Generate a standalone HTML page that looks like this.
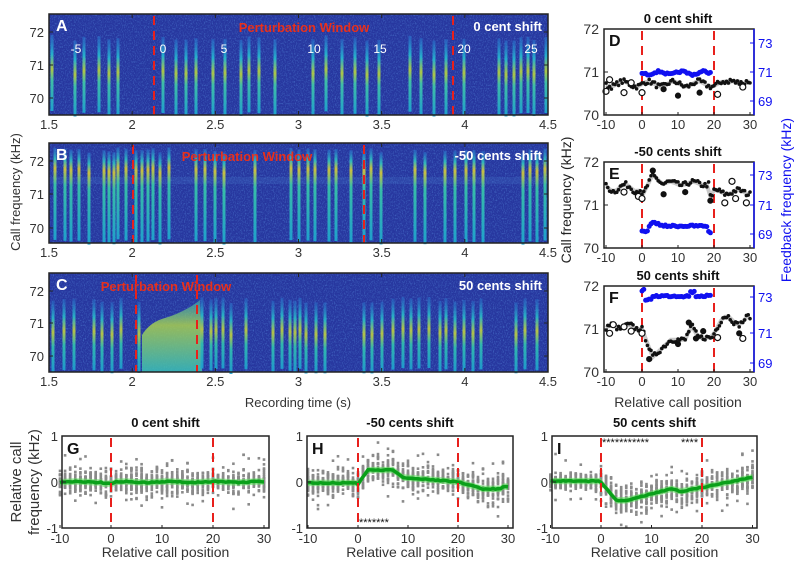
<!DOCTYPE html>
<html><head><meta charset="utf-8">
<style>
html,body{margin:0;padding:0;background:#fff;}
svg{display:block;font-family:"Liberation Sans",Arial,sans-serif;}
</style></head>
<body>
<svg id="s" width="803" height="578" viewBox="0 0 803 578" xmlns="http://www.w3.org/2000/svg">
<defs>
<filter id="nz" x="0" y="0" width="100%" height="100%">
<feTurbulence type="fractalNoise" baseFrequency="0.9 0.6" numOctaves="2" seed="3"/>
<feColorMatrix type="matrix" values="0 0 0 0 0.15  0 0 0 0 0.45  0 0 0 0 0.95  0 0 0 1.6 -0.75"/>
</filter>
<linearGradient id="gA" x1="0" y1="0" x2="0" y2="1">
<stop offset="0" stop-color="#2a7fd8" stop-opacity="0.5"/>
<stop offset="0.25" stop-color="#25b9d0"/>
<stop offset="0.45" stop-color="#b8d040"/>
<stop offset="0.6" stop-color="#40c8a8"/>
<stop offset="1" stop-color="#1fa8d0"/>
</linearGradient>
<linearGradient id="gB" x1="0" y1="0" x2="0" y2="1">
<stop offset="0" stop-color="#2a7fd8" stop-opacity="0.5"/>
<stop offset="0.12" stop-color="#30c0c0"/>
<stop offset="0.22" stop-color="#d8c838"/>
<stop offset="0.4" stop-color="#38c8a8"/>
<stop offset="1" stop-color="#1fa8d0"/>
</linearGradient>
<linearGradient id="gC" x1="0" y1="0" x2="0" y2="1">
<stop offset="0" stop-color="#2a7fd8" stop-opacity="0.4"/>
<stop offset="0.25" stop-color="#28b8c8"/>
<stop offset="0.45" stop-color="#c0cc40"/>
<stop offset="0.65" stop-color="#30c0b0"/>
<stop offset="1" stop-color="#1fa0d0"/>
</linearGradient>
<linearGradient id="blob" x1="0" y1="0" x2="0" y2="1">
<stop offset="0" stop-color="#40b8b0" stop-opacity="0.6"/>
<stop offset="0.35" stop-color="#a8d050" stop-opacity="0.85"/>
<stop offset="1" stop-color="#38c0b8" stop-opacity="0.85"/>
</linearGradient>
</defs>
<g id="root"></g>
</svg>
<script>
(function(){
var NS="http://www.w3.org/2000/svg",root=document.getElementById('root');
function el(t,a,txt,p){var e=document.createElementNS(NS,t);for(var k in a)e.setAttribute(k,a[k]);if(txt!=null)e.textContent=txt;(p||root).appendChild(e);return e;}
var seed=7;function rnd(){seed=(seed*16807)%2147483647;return (seed-1)/2147483646;}
function gauss(){return (rnd()+rnd()+rnd()-1.5)/0.5*0.6;}
function text(x,y,s,o){o=o||{};var a={x:x,y:y,'font-size':o.fs||13,fill:o.fill||'#333','text-anchor':o.anchor||'middle'};if(o.bold)a['font-weight']='bold';if(o.rot)a.transform='rotate(-90 '+x+' '+y+')';return el('text',a,s);}
function dash(x,y0,y1){el('line',{x1:x,y1:y0,x2:x,y2:y1,stroke:'#e8201c','stroke-width':2,'stroke-dasharray':'9,6'});}

function tx(t){return 49+(t-1.5)/3*499;}
function spec(top,bot,y72,y71,y70,bars,grad,barTop,dl,label,title,pwx,extra){
 el('rect',{x:49,y:top,width:499,height:bot-top,fill:'#27379f'});
 el('rect',{x:49,y:top,width:499,height:bot-top,filter:'url(#nz)',opacity:0.6});
 if(extra)extra();
 bars.forEach(function(b){el('rect',{x:b-1.5,y:barTop+(rnd()*6-3),width:3,height:bot-barTop-1,fill:'url(#'+grad+')',opacity:0.92});});
 dash(dl[0],top+2,bot);dash(dl[1],top+2,bot);
 el('rect',{x:49,y:top,width:499,height:bot-top,fill:'none',stroke:'#222','stroke-width':1.5});
 [[72,y72],[71,y71],[70,y70]].forEach(function(v){el('line',{x1:49,y1:v[1],x2:53,y2:v[1],stroke:'#222'});el('line',{x1:544,y1:v[1],x2:548,y2:v[1],stroke:'#222'});text(44,v[1]+5,''+v[0],{anchor:'end',fs:13});});
 [1.5,2,2.5,3,3.5,4,4.5].forEach(function(t){var x=tx(t);el('line',{x1:x,y1:top,x2:x,y2:top+4,stroke:'#222'});el('line',{x1:x,y1:bot,x2:x,y2:bot-4,stroke:'#222'});text(x,bot+14,''+t,{fs:13});});
 text(56,top+17,label,{fill:'#fff',bold:1,fs:16,anchor:'start'});
 text(542,top+17,title,{fill:'#fff',bold:1,fs:13,anchor:'end'});
 text(pwx,top+18,'Perturbation Window',{fill:'#e8301c',bold:1,fs:13});
}
spec(14,115,32,65,98,[52,75,84,99,109,118,163,176,186,196,213,225,241,249,259,275,313,326,342,355,367,379,410,421,434,446,464,499,506,514,521,528,534,546],'gA',38,[154,453],'A','0 cent shift',304);
[['-5',76],['0',163],['5',224],['10',314],['15',380],['20',464],['25',531]].forEach(function(v){text(v[1],53,v[0],{fill:'#fff',fs:12});});
spec(143,243,161,194,228,[55,65,71,79,89,104,109,114,118,126,136,142,148,153,160,169,196,205,215,224,255,291,299,308,315,329,336,351,364,371,381,415,425,445,455,466,474,483,523,530,537,545],'gB',150,[133,364],'B','-50 cents shift',247,function(){el('rect',{x:49,y:177,width:499,height:7,fill:'#4a80d0',opacity:0.2});});
spec(273,372,291,323,356,[53,64,74,94,102,112,121,139,202,211,216,223,231,246,273,282,290,295,300,306,316,325,364,372,382,393,403,411,419,429,440,446,455,464,473,481,516,525,537],'gC',300,[136,197],'C','50 cents shift',166,function(){el('path',{d:'M142 372 L142 335 Q150 322 165 318 Q185 312 200 300 L202 372 Z',fill:'url(#blob)'});});
text(20,192,'Call frequency (kHz)',{rot:1,fs:13});
text(298,407,'Recording time (s)',{fs:13});

function rx(v){return 642+v*3.6;}
function rpanel(top,title,lbl,blueLabelsY,blackF,blueF,circles){
 var bot=top+86;function ry(v){return top+(72-v)*43;}
 text(678,top-6,title,{bold:1,fs:13,fill:'#111'});
 dash(rx(0),top+2,bot);dash(rx(20),top+2,bot);
 var pts=[];for(var i=-10;i<=30;i++)pts.push(rx(i)+','+ry(blackF(i)));
 el('polyline',{points:pts.join(' '),fill:'none',stroke:'#c8c8c8','stroke-width':4});
 for(var i=-10;i<=30;i+=0.5){var v=blackF(i)+(rnd()-0.5)*0.12;
  el('circle',{cx:rx(i),cy:ry(v),r:1.8,fill:'#111'});}
 circles.forEach(function(c){el('circle',{cx:rx(c[0]),cy:ry(c[1]),r:c[2]?2.5:3,fill:c[2]?'#111':'#fff',stroke:'#111','stroke-width':1.2});});
 for(var i=0;i<=19;i+=0.5){el('circle',{cx:rx(i),cy:blueF(i)+(rnd()-0.5)*2,r:2.5,fill:'#1010f0'});}
 el('rect',{x:604,y:top,width:150,height:86,fill:'none',stroke:'#222','stroke-width':1.5});
 el('line',{x1:754,y1:top,x2:754,y2:bot,stroke:'#1010f0','stroke-width':1.5});
 [72,71,70].forEach(function(v){el('line',{x1:604,y1:ry(v),x2:608,y2:ry(v),stroke:'#222'});text(599,ry(v)+5,''+v,{anchor:'end',fs:14});});
 blueLabelsY.forEach(function(v){el('line',{x1:750,y1:v[1],x2:754,y2:v[1],stroke:'#1010f0'});text(758,v[1]+5,v[0],{anchor:'start',fs:13,fill:'#1010f0'});});
 [-10,0,10,20,30].forEach(function(v){el('line',{x1:rx(v),y1:bot,x2:rx(v),y2:bot-3,stroke:'#222'});text(rx(v),bot+14,''+v,{fs:13});});
 text(609,top+17,lbl,{bold:1,fs:16,anchor:'start',fill:'#111'});
}
rpanel(29,'0 cent shift','D',[['73',43],['71',72],['69',101]],function(i){return 70.72+0.06*Math.sin(i*0.9)+(i>24&&i<28?0.1:0);},function(i){return 73+Math.sin(i)*1.5;},
 [[-10,70.55],[-9,70.82],[-5,70.52],[0,70.52],[6,70.6,1],[10,70.45,1],[16,70.52,1],[21,70.48],[28,70.65],[-3,70.75]]);
rpanel(162,'-50 cents shift','E',[['73',175],['71',205],['69',234]],function(i){if(i<0)return 71.4+0.08*Math.sin(i);if(i<=3)return 71.2+i*0.17;if(i<6)return 71.7-(i-3)*0.08;if(i<19)return 71.5+0.04*Math.sin(i);if(i<20)return 71.2;return 71.3+0.05*Math.sin(i);},function(i){return (i<2||i>18?232:226)+(i>2&&i<5?-3:0);},
 [[-5,71.3],[-1,71.2],[0,71.15],[3,71.8,1],[6,71.25,1],[12,71.3,1],[19,71.1,1],[23,71.05],[25,71.55],[26,71.15],[29,71.05]]);
rpanel(286,'50 cents shift','F',[['73',297],['71',333],['69',363]],function(i){if(i<0)return 71.05+0.05*Math.sin(i*1.3);if(i<3)return 71.0-i*0.22;if(i<8)return 70.35+(i-3)*0.08;if(i<12)return 70.75;if(i<14)return 70.75+(i-12)*0.2;if(i<16)return 71.05-(i-14)*0.15;if(i<20)return 70.8;if(i<23)return 70.9+(i-20)*0.15;return 71.2-0.1*Math.sin(i);},function(i){return i<1?290:(i<3?300:296-(i>13&&i<15?4:0));},
 [[-9,70.9],[-8,71.1],[-5,71.05],[-3,70.95],[0,70.9],[2,70.3,1],[10,70.65,1],[13,71.15,1],[15,70.78,1],[17,70.95,1],[21,70.8],[28,70.78],[27,70.9,1]]);
text(571,200,'Call frequency (kHz)',{rot:1,fs:14,fill:'#222'});
text(791,200,'Feedback frequency (kHz)',{rot:1,fs:14,fill:'#1010f0'});
text(678,407,'Relative call position',{fs:14});

function bpanel(L,R,x0,x20,title,lbl,meanF,spreadF,stars){
 var top=436,bot=528;function by(v){return 482-v*46;}function bx(i){return x0+i*(x20-x0)/20;}
 text((L+R)/2,427,title,{bold:1,fs:13,fill:'#111'});
 for(var i=-10;i<=30;i++){var m=meanF(i),s=spreadF(i);
  for(var k=0;k<24;k++){var v=m+gauss()*s;if(rnd()<0.06)v=m+(rnd()-0.5)*1.2;if(v>0.95||v<-0.98)continue;el('rect',{x:bx(i)-1.3,y:by(v)-1.3,width:2.6,height:2.6,fill:'#8a8a8a'});}
 }
 var up=[],dn=[],ln=[];for(var i=-10;i<=30;i+=0.5){var m=meanF(i);up.push(bx(i)+','+by(m+0.07));dn.unshift(bx(i)+','+by(m-0.07));ln.push(bx(i)+','+by(m+(rnd()-0.5)*0.02));}
 el('polygon',{points:up.concat(dn).join(' '),fill:'#5ee05e',opacity:0.6});
 el('polyline',{points:ln.join(' '),fill:'none',stroke:'#0aa01a','stroke-width':3.5});
 dash(x0,top+2,bot);dash(x20,top+2,bot);
 el('rect',{x:L,y:top,width:R-L,height:bot-top,fill:'none',stroke:'#222','stroke-width':1.5});
 [[1,'1'],[0,'0'],[-1,'-1']].forEach(function(v){el('line',{x1:L,y1:by(v[0]),x2:L+4,y2:by(v[0]),stroke:'#222'});text(L-4,by(v[0])+5,v[1],{anchor:'end',fs:13});});
 [-10,0,10,20,30].forEach(function(v){el('line',{x1:bx(v),y1:bot,x2:bx(v),y2:bot-3,stroke:'#222'});text(bx(v),bot+15,''+v,{fs:13});});
 text(L+5,top+18,lbl,{bold:1,fs:16,anchor:'start',fill:'#111'});
 text((L+R)/2,557,'Relative call position',{fs:14});
 (stars||[]).forEach(function(s){text(s[0],s[1],s[2],{anchor:'start',fs:11,fill:'#111'});});
}
bpanel(62,269,111,213,'0 cent shift','G',function(i){return 0.01*Math.sin(i*0.7)-(i>-2&&i<1?0.03:0);},function(i){return 0.2+(i>2&&i<14?0.08:0);});
bpanel(307,513,358,458,'-50 cents shift','H',function(i){if(i<0)return -0.02;if(i<2)return -0.05+i*0.16;if(i<7)return 0.26;if(i<9)return 0.26-(i-7)*0.08;if(i<20)return 0.1-(i-9)*0.009;if(i<25)return -(i-20)*0.03;if(i<29)return -0.15;return -0.1;},function(i){return 0.24;},[[359,526,'*******']]);
bpanel(552,757,601,702,'50 cents shift','I',function(i){if(i<0)return 0.02;if(i<3)return -i*0.13;if(i<5)return -0.4;if(i<14)return -0.4+(i-5)*0.028;if(i<16)return -0.15-(i-14)*0.03;if(i<20)return -0.2+(i-16)*0.02;return -0.12+(i-20)*0.022;},function(i){return i<0?0.14:0.26;},[[602,446,'***********'],[681,446,'****']]);
text(21,482,'Relative call',{rot:1,fs:15,fill:'#333'});
text(39,482,'frequency (kHz)',{rot:1,fs:15,fill:'#333'});
})();
</script>
</body></html>
